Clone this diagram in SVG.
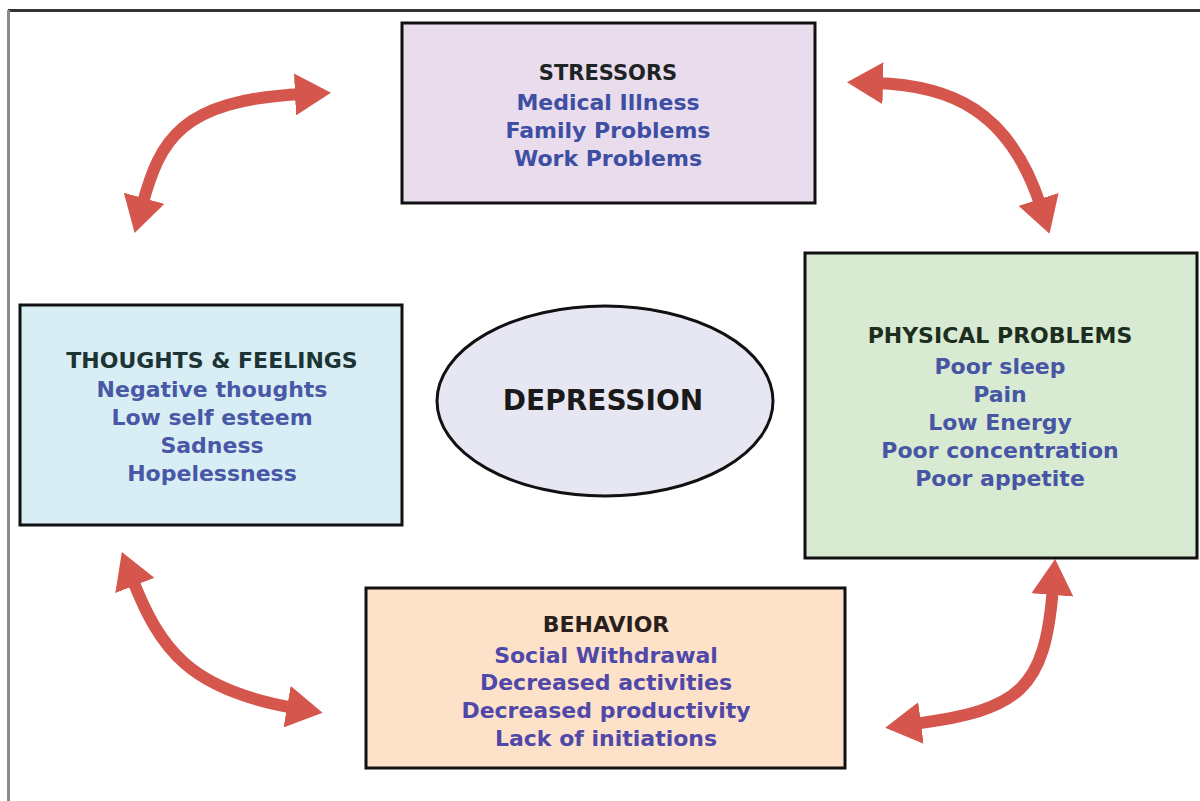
<svg xmlns="http://www.w3.org/2000/svg" width="1200" height="801" viewBox="0 0 1200 801">
<style>
.box{stroke:#111;stroke-width:3}
.t{font-family:"DejaVu Sans","Verdana",sans-serif;font-weight:bold;font-size:22px;text-anchor:middle}
.h{fill:#1e2424}
.i{fill:#3d4ea3}
.arr{fill:none;stroke:#d4564d;stroke-width:12;marker-start:url(#ah);marker-end:url(#ah)}
</style>
<defs>
<marker id="ah" markerUnits="userSpaceOnUse" markerWidth="40" markerHeight="42" viewBox="0 0 40 42" refX="8" refY="21" orient="auto-start-reverse">
<path d="M0,0 L36,21 L0,42 z" fill="#d4564d"/>
</marker>
</defs>
<rect x="0" y="0" width="1200" height="801" fill="#fff"/>
<g id="frame">
<line x1="8" y1="10.5" x2="1200" y2="10.5" stroke="#333" stroke-width="3"/>
<line x1="8.5" y1="10" x2="8.5" y2="801" stroke="#8a8a8a" stroke-width="3"/>
</g>
<g id="connectors">
<path class="arr" d="M142 206 C160 140, 180 100, 303 94"/>
<path class="arr" d="M875 83 C950 85, 1010 110, 1041 207"/>
<path class="arr" d="M132 578 C160 650, 190 690, 295 708"/>
<path class="arr" d="M1053 587 C1045 690, 1020 710, 913 724"/>
</g>
<g id="stressors">
<rect class="box" x="402" y="23" width="413" height="180" fill="#e9dcec"/>
<text class="t h" x="608" y="80" style="font-size:21px">STRESSORS</text>
<text class="t i" x="608" y="110">Medical Illness</text>
<text class="t i" x="608" y="138">Family Problems</text>
<text class="t i" x="608" y="166">Work Problems</text>
</g>
<g id="thoughts">
<rect class="box" x="20" y="305" width="382" height="220" fill="#d8eef4"/>
<text class="t h" x="212" y="368" style="fill:#1d3434">THOUGHTS &amp; FEELINGS</text>
<text class="t i" x="212" y="397" style="fill:#4858a6">Negative thoughts</text>
<text class="t i" x="212" y="425" style="fill:#4858a6">Low self esteem</text>
<text class="t i" x="212" y="453" style="fill:#4858a6">Sadness</text>
<text class="t i" x="212" y="481" style="fill:#4858a6">Hopelessness</text>
</g>
<g id="depression">
<ellipse cx="605" cy="401" rx="168" ry="95" fill="#e7e7f3" stroke="#111" stroke-width="3"/>
<text class="t" x="603" y="410" style="font-size:28px;fill:#1a1a1a">DEPRESSION</text>
</g>
<g id="physical">
<rect class="box" x="805" y="253" width="392" height="305" fill="#d9ead2"/>
<text class="t h" x="1000" y="343" style="fill:#1c2e20">PHYSICAL PROBLEMS</text>
<text class="t i" x="1000" y="374" style="fill:#4656a4">Poor sleep</text>
<text class="t i" x="1000" y="402" style="fill:#4656a4">Pain</text>
<text class="t i" x="1000" y="430" style="fill:#4656a4">Low Energy</text>
<text class="t i" x="1000" y="458" style="fill:#4656a4">Poor concentration</text>
<text class="t i" x="1000" y="486" style="fill:#4656a4">Poor appetite</text>
</g>
<g id="behavior">
<rect class="box" x="366" y="588" width="479" height="180" fill="#fde2c9"/>
<text class="t h" x="606" y="632" style="fill:#2a1f1a">BEHAVIOR</text>
<text class="t i" x="606" y="663" style="fill:#5048a8">Social Withdrawal</text>
<text class="t i" x="606" y="690" style="fill:#5048a8">Decreased activities</text>
<text class="t i" x="606" y="718" style="fill:#5048a8">Decreased productivity</text>
<text class="t i" x="606" y="746" style="fill:#5048a8">Lack of initiations</text>
</g>
</svg>
